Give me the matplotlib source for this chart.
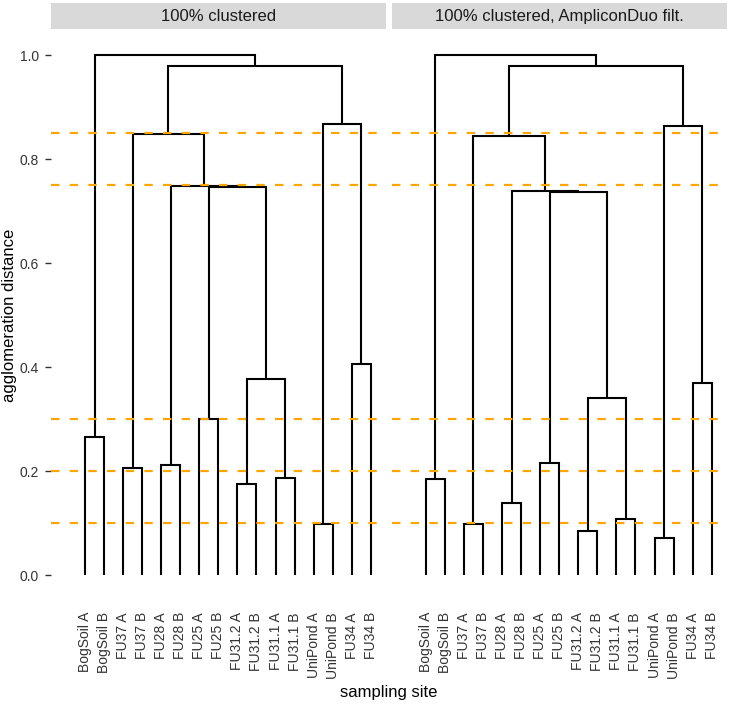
import matplotlib
matplotlib.use("Agg")
import matplotlib.pyplot as plt

plt.rcParams['font.family'] = ['Liberation Sans', 'DejaVu Sans']

sites = ["BogSoil A", "BogSoil B", "FU37 A", "FU37 B", "FU28 A", "FU28 B",
         "FU25 A", "FU25 B", "FU31.2 A", "FU31.2 B", "FU31.1 A", "FU31.1 B",
         "UniPond A", "UniPond B", "FU34 A", "FU34 B"]

# merges like a linkage table: node 16+i joins merge_a[i] and merge_b[i]
merge_a = [0, 2, 4, 6, 8, 10, 12, 14, 20, 19, 18, 17, 22, 27, 16]
merge_b = [1, 3, 5, 7, 9, 11, 13, 15, 21, 24, 25, 26, 23, 28, 29]

height_clustered = [0.265, 0.205, 0.2115, 0.300, 0.176, 0.187, 0.099, 0.406,
                    0.378, 0.747, 0.749, 0.849, 0.868, 0.980, 1.0]
height_filtered = [0.184, 0.099, 0.138, 0.216, 0.085, 0.108, 0.071, 0.370,
                   0.341, 0.737, 0.739, 0.845, 0.864, 0.980, 1.0]

panels = ["100% clustered", "100% clustered, AmpliconDuo filt."]
cutoffs = [0.1, 0.2, 0.3, 0.75, 0.85]

W, H = 729, 704
fig = plt.figure(figsize=(W / 100, H / 100), dpi=100)

panel_px = [(51, 386), (391.7, 727)]
top_px, bot_px = 29.3, 601


def draw_dendro(ax, heights):
    n = len(sites)
    xs = {i: i + 1 for i in range(n)}
    ys = {i: 0.0 for i in range(n)}
    for i, (a, b) in enumerate(zip(merge_a, merge_b)):
        h = heights[i]
        node = n + i
        ax.plot([xs[a], xs[a], xs[b], xs[b]], [ys[a], h, h, ys[b]],
                color="black", lw=1.5, solid_joinstyle="miter",
                solid_capstyle="butt", zorder=2)
        xs[node] = (xs[a] + xs[b]) / 2
        ys[node] = h


for k, (name, heights) in enumerate(zip(panels, [height_clustered, height_filtered])):
    x0, x1 = panel_px[k]
    ax = fig.add_axes([x0 / W, 1 - bot_px / H, (x1 - x0) / W, (bot_px - top_px) / H])
    draw_dendro(ax, heights)
    for c in cutoffs:
        ax.axhline(c, color="#FFA500", lw=1.6, ls=(0, (3.8, 4.6)), zorder=3)
    ax.set_xlim(-0.785, 16.8)
    ax.set_ylim(-0.05, 1.05)
    for s in ax.spines.values():
        s.set_visible(False)
    ax.set_xticks(range(1, len(sites) + 1))
    ax.set_xticklabels(sites, rotation=90, fontsize=10, color="#333333")
    ax.tick_params(axis="x", length=0, pad=8)
    if k == 0:
        ax.set_yticks([0.0, 0.2, 0.4, 0.6, 0.8, 1.0])
        ax.set_yticklabels(["0.0", "0.2", "0.4", "0.6", "0.8", "1.0"])
        ax.tick_params(axis="y", length=4, width=1, color="#333333",
                       labelsize=10, labelcolor="#333333", pad=4.5)
    else:
        ax.set_yticks([])

    # facet strip
    sax = fig.add_axes([x0 / W, 1 - top_px / H, (x1 - x0) / W, (top_px - 3) / H])
    sax.set_facecolor("#D9D9D9")
    sax.set_xticks([])
    sax.set_yticks([])
    for s in sax.spines.values():
        s.set_visible(False)
    sax.text(0.5, 0.5, name, ha="center", va="center", fontsize=12,
             color="#1A1A1A", transform=sax.transAxes)

fig.text(389 / W, 1 - 692 / H, "sampling site", ha="center", va="center", fontsize=12)
fig.text(10 / W, 1 - 315 / H, "agglomeration distance", ha="center", va="center",
         rotation=90, fontsize=12)

fig.savefig("out.png", dpi=100)
